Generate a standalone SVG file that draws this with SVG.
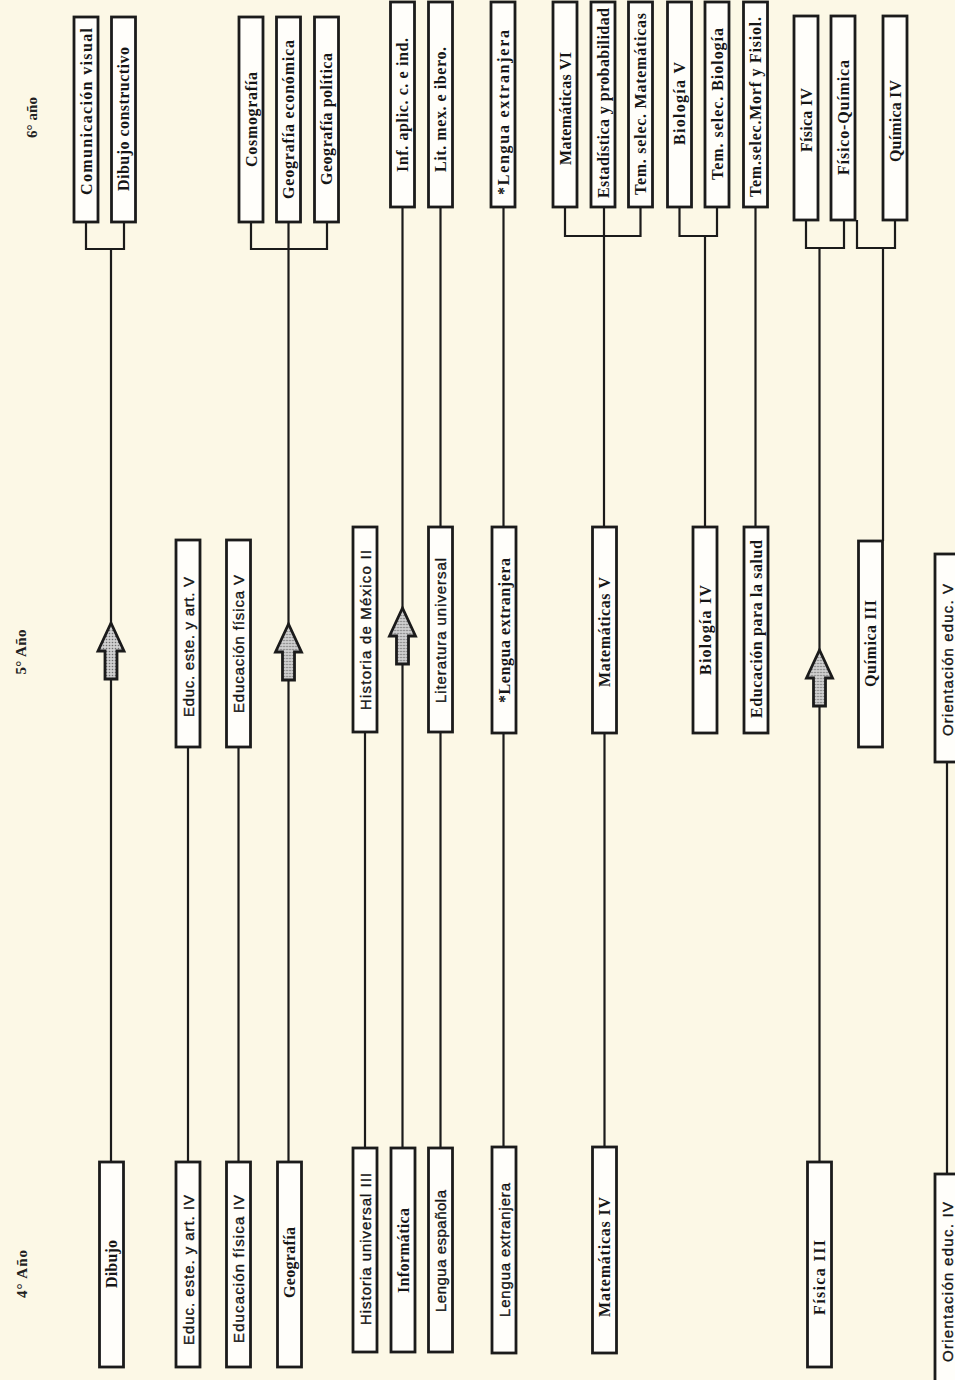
<svg xmlns="http://www.w3.org/2000/svg" width="955" height="1380" viewBox="0 0 955 1380">
<style>
.bg{fill:#fcf8e6}
.box{fill:#fffefa;stroke:#1b1b1b;stroke-width:2.8}
.ln{fill:none;stroke:#1b1b1b;stroke-width:2.2}
.ar{fill:url(#stip);stroke:#1b1b1b;stroke-width:2.8;stroke-linejoin:miter}
.s{font-family:"Liberation Serif","Times New Roman",serif;font-weight:bold;font-size:16px;fill:#161616}
.n{font-family:"Liberation Sans",Arial,sans-serif;font-size:15px;fill:#161616;stroke:#161616;stroke-width:0.35}
.h{font-family:"Liberation Serif","Times New Roman",serif;font-weight:bold;font-size:15px;fill:#222}
</style>
<defs>
<pattern id="stip" width="3" height="3" patternUnits="userSpaceOnUse">
<rect width="3" height="3" fill="#cfcfcf"/>
<circle cx="1.5" cy="1.5" r="0.8" fill="#6f6f6f"/>
</pattern>
<path id="arrow" d="M0,0 L13,28 L6,28 L6,56 L-6,56 L-6,28 L-13,28 Z"/>
</defs>
<rect class="bg" x="0" y="0" width="955" height="1380"/>

<g id="headers">
<text class="h" transform="translate(37,117.5) rotate(-90)" text-anchor="middle" textLength="41">6° año</text>
<text class="h" transform="translate(26,652) rotate(-90)" text-anchor="middle" textLength="45">5° Año</text>
<text class="h" transform="translate(27,1274) rotate(-90)" text-anchor="middle" textLength="48">4° Año</text>
</g>

<g id="connectors">
<path class="ln" d="M86,222 V249 H124 V222"/>
<path class="ln" d="M111,249 V1162"/>
<path class="ln" d="M251,222 V249 H327 V222"/>
<path class="ln" d="M288.5,222 V1162"/>
<path class="ln" d="M402.5,207 V1148"/>
<path class="ln" d="M440.5,207 V527"/>
<path class="ln" d="M440.5,732 V1148"/>
<path class="ln" d="M503.5,207 V527"/>
<path class="ln" d="M503.5,733 V1147"/>
<path class="ln" d="M565,207 V236 H640.5 V207"/>
<path class="ln" d="M604,207 V527"/>
<path class="ln" d="M604.5,733 V1147"/>
<path class="ln" d="M679.5,207 V236 H717 V207"/>
<path class="ln" d="M705,236 V527"/>
<path class="ln" d="M755.5,207 V527"/>
<path class="ln" d="M806,220 V248 H844 V220"/>
<path class="ln" d="M819.5,248 V1162"/>
<path class="ln" d="M857,220 V248 H895 V220"/>
<path class="ln" d="M883,248 V541"/>
<path class="ln" d="M188,747 V1162"/>
<path class="ln" d="M238.5,747 V1162"/>
<path class="ln" d="M365,732 V1148"/>
<path class="ln" d="M947,762 V1174"/>
<use href="#arrow" class="ar" x="111" y="623"/>
<use href="#arrow" class="ar" x="288.5" y="624"/>
<use href="#arrow" class="ar" x="402.5" y="608"/>
<use href="#arrow" class="ar" x="819.5" y="650"/>
</g>

<!-- 6 año -->
<g id="comunicacion-visual"><rect class="box" x="74" y="17" width="24" height="205"/><text class="s" transform="translate(91.5,111.5) rotate(-90)" text-anchor="middle" textLength="167">Comunicación visual</text></g>
<g id="dibujo-constructivo"><rect class="box" x="111.5" y="17" width="24" height="205"/><text class="s" transform="translate(129,119) rotate(-90)" text-anchor="middle" textLength="144">Dibujo constructivo</text></g>
<g id="cosmografia"><rect class="box" x="239" y="17" width="24" height="205"/><text class="s" transform="translate(256.5,119.5) rotate(-90)" text-anchor="middle" textLength="95">Cosmografía</text></g>
<g id="geografia-economica"><rect class="box" x="276.5" y="17" width="24" height="205"/><text class="s" transform="translate(294,119.5) rotate(-90)" text-anchor="middle" textLength="159">Geografía económica</text></g>
<g id="geografia-politica"><rect class="box" x="314.5" y="17" width="24" height="205"/><text class="s" transform="translate(332,119) rotate(-90)" text-anchor="middle" textLength="132">Geografía política</text></g>
<g id="inf-aplic"><rect class="box" x="390.5" y="2" width="24" height="205"/><text class="s" transform="translate(408,105) rotate(-90)" text-anchor="middle" textLength="134">Inf. aplic. c. e ind.</text></g>
<g id="lit-mex"><rect class="box" x="428.5" y="2" width="24" height="205"/><text class="s" transform="translate(446,109.5) rotate(-90)" text-anchor="middle" textLength="125">Lit. mex. e ibero.</text></g>
<g id="lengua-extranjera-6"><rect class="box" x="491" y="2" width="24" height="205"/><text class="s" transform="translate(508.5,112.5) rotate(-90)" text-anchor="middle" textLength="165">*Lengua extranjera</text></g>
<g id="matematicas-vi"><rect class="box" x="553" y="2" width="24" height="205"/><text class="s" transform="translate(570.5,108.5) rotate(-90)" text-anchor="middle" textLength="113">Matemáticas VI</text></g>
<g id="estadistica"><rect class="box" x="591" y="2" width="24" height="205"/><text class="s" transform="translate(608.5,103) rotate(-90)" text-anchor="middle" textLength="190">Estadística y probabilidad</text></g>
<g id="tem-selec-matematicas"><rect class="box" x="628.5" y="2" width="24" height="205"/><text class="s" transform="translate(646,104) rotate(-90)" text-anchor="middle" textLength="182">Tem. selec. Matemáticas</text></g>
<g id="biologia-v"><rect class="box" x="667.5" y="2" width="24" height="205"/><text class="s" transform="translate(685,103.5) rotate(-90)" text-anchor="middle" textLength="83">Biología V</text></g>
<g id="tem-selec-biologia"><rect class="box" x="705" y="2" width="24" height="205"/><text class="s" transform="translate(722.5,104) rotate(-90)" text-anchor="middle" textLength="152">Tem. selec. Biología</text></g>
<g id="tem-selec-morf"><rect class="box" x="743.5" y="2" width="24" height="205"/><text class="s" transform="translate(761,107) rotate(-90)" text-anchor="middle" textLength="180">Tem.selec.Morf y Fisiol.</text></g>
<g id="fisica-iv"><rect class="box" x="794" y="16" width="24" height="204"/><text class="s" transform="translate(811.5,120) rotate(-90)" text-anchor="middle" textLength="64">Física IV</text></g>
<g id="fisico-quimica"><rect class="box" x="831" y="16" width="24" height="204"/><text class="s" transform="translate(848.5,117.5) rotate(-90)" text-anchor="middle" textLength="115">Físico-Química</text></g>
<g id="quimica-iv"><rect class="box" x="883" y="16" width="24" height="204"/><text class="s" transform="translate(900.5,121) rotate(-90)" text-anchor="middle" textLength="82">Química IV</text></g>

<!-- 5 año -->
<g id="educ-este-v"><rect class="box" x="176" y="540" width="24" height="207"/><text class="n" transform="translate(193.5,647) rotate(-90)" text-anchor="middle" textLength="140">Educ. este. y art. V</text></g>
<g id="educacion-fisica-v"><rect class="box" x="226.5" y="540" width="24" height="207"/><text class="n" transform="translate(244,644) rotate(-90)" text-anchor="middle" textLength="138">Educación física V</text></g>
<g id="historia-mexico-ii"><rect class="box" x="353" y="527" width="24" height="205"/><text class="n" transform="translate(370.5,630) rotate(-90)" text-anchor="middle" textLength="160">Historia de México II</text></g>
<g id="literatura-universal"><rect class="box" x="428.5" y="527" width="24" height="205"/><text class="n" transform="translate(446,630.5) rotate(-90)" text-anchor="middle" textLength="145">Literatura universal</text></g>
<g id="lengua-extranjera-5"><rect class="box" x="492" y="527" width="24" height="206"/><text class="s" transform="translate(509.5,630.5) rotate(-90)" text-anchor="middle" textLength="145">*Lengua extranjera</text></g>
<g id="matematicas-v"><rect class="box" x="592.5" y="527" width="24" height="206"/><text class="s" transform="translate(610,632) rotate(-90)" text-anchor="middle" textLength="110">Matemáticas V</text></g>
<g id="biologia-iv"><rect class="box" x="693" y="527" width="24" height="206"/><text class="s" transform="translate(710.5,630) rotate(-90)" text-anchor="middle" textLength="90">Biología  IV</text></g>
<g id="educacion-salud"><rect class="box" x="744" y="527" width="24" height="206"/><text class="s" transform="translate(761.5,629) rotate(-90)" text-anchor="middle" textLength="178">Educación para la salud</text></g>
<g id="quimica-iii"><rect class="box" x="858.5" y="541" width="24" height="206"/><text class="s" transform="translate(876,643.5) rotate(-90)" text-anchor="middle" textLength="87">Química III</text></g>
<g id="orientacion-v"><rect class="box" x="935" y="554" width="26" height="208"/><text class="n" transform="translate(952.5,660) rotate(-90)" text-anchor="middle" textLength="152">Orientación educ.  V</text></g>

<!-- 4 año -->
<g id="dibujo"><rect class="box" x="99.5" y="1162" width="24" height="205"/><text class="s" transform="translate(117,1264) rotate(-90)" text-anchor="middle" textLength="48">Dibujo</text></g>
<g id="educ-este-iv"><rect class="box" x="176" y="1162" width="24" height="205"/><text class="n" transform="translate(193.5,1270) rotate(-90)" text-anchor="middle" textLength="150">Educ. este. y art. IV</text></g>
<g id="educacion-fisica-iv"><rect class="box" x="226.5" y="1162" width="24" height="205"/><text class="n" transform="translate(244,1269) rotate(-90)" text-anchor="middle" textLength="148">Educación física IV</text></g>
<g id="geografia"><rect class="box" x="277.5" y="1162" width="24" height="205"/><text class="s" transform="translate(295,1262.5) rotate(-90)" text-anchor="middle" textLength="71">Geografía</text></g>
<g id="historia-universal-iii"><rect class="box" x="353" y="1148" width="24" height="204"/><text class="n" transform="translate(370.5,1249) rotate(-90)" text-anchor="middle" textLength="152">Historia universal III</text></g>
<g id="informatica"><rect class="box" x="391" y="1148" width="24" height="204"/><text class="s" transform="translate(408.5,1250.5) rotate(-90)" text-anchor="middle" textLength="85">Informática</text></g>
<g id="lengua-espanola"><rect class="box" x="428.5" y="1148" width="24" height="204"/><text class="n" transform="translate(446,1251) rotate(-90)" text-anchor="middle" textLength="122">Lengua española</text></g>
<g id="lengua-extranjera-4"><rect class="box" x="492" y="1147" width="24" height="206"/><text class="n" transform="translate(509.5,1250) rotate(-90)" text-anchor="middle" textLength="134">Lengua extranjera</text></g>
<g id="matematicas-iv"><rect class="box" x="592.5" y="1147" width="24" height="206"/><text class="s" transform="translate(610,1257) rotate(-90)" text-anchor="middle" textLength="120">Matemáticas IV</text></g>
<g id="fisica-iii"><rect class="box" x="807.5" y="1162" width="24" height="205"/><text class="s" transform="translate(825,1277.5) rotate(-90)" text-anchor="middle" textLength="75">Física III</text></g>
<g id="orientacion-iv"><rect class="box" x="935" y="1174" width="26" height="215"/><text class="n" transform="translate(952.5,1282) rotate(-90)" text-anchor="middle" textLength="160">Orientación educ. IV</text></g>
</svg>
